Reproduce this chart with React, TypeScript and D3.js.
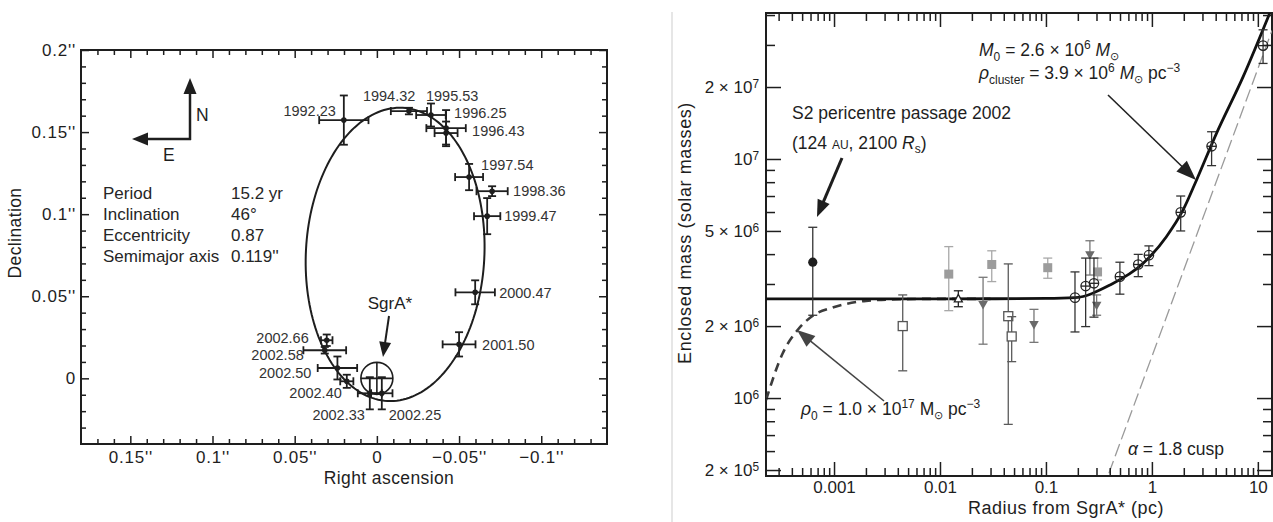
import React, { useEffect, useRef } from 'react';
import * as d3 from 'd3';

const FONT = '"Liberation Sans", Arial, Helvetica, sans-serif';
const INK = '#1e1e1e';

// --- S2 astrometry, arcsec offsets from SgrA* ---
const epochs = ['1992.23', '1994.32', '1995.53', '1996.25', '1996.43', '1997.54', '1998.36', '1999.47',
  '2000.47', '2001.50', '2002.25', '2002.33', '2002.40', '2002.50', '2002.58', '2002.66'];
const raOffset = [0.0201, -0.0195, -0.0329, -0.0421, -0.0421, -0.0561, -0.0701, -0.0671,
  -0.0598, -0.05, -0.003, 0.0043, 0.0183, 0.024, 0.0317, 0.0305];
const decOffset = [0.1573, 0.1628, 0.1604, 0.1524, 0.1494, 0.1226, 0.114, 0.0988,
  0.0524, 0.0207, -0.0091, -0.0091, -0.0018, 0.0063, 0.0171, 0.0232];
const raError = [0.015, 0.011, 0.009, 0.012, 0.007, 0.0085, 0.0095, 0.008,
  0.012, 0.01, 0.0065, 0.0073, 0.004, 0.012, 0.013, 0.0035];
const decError = [0.015, 0.002, 0.007, 0.011, 0.007, 0.008, 0.003, 0.011,
  0.0073, 0.0074, 0.0098, 0.0098, 0.004, 0.007, 0.002, 0.0035];
// label placement next to each point: dx, dy (px), anchor
const epochLabelShift: [number, number, string][] = [
  [-8, -4, 'end'], [-46, -10, 'start'], [-5, -14, 'start'], [8, -10, 'start'], [26, 3, 'start'],
  [12, -7, 'start'], [21, 5, 'start'], [17, 5, 'start'], [24, 6, 'start'], [23, 6, 'start'],
  [7, 27, 'start'], [-5, 27, 'end'], [-5, 17, 'end'], [-26, 10, 'end'], [-21, 10, 'end'], [-18, 3, 'end'],
];

// Keplerian fit projected on the sky (centre, semi-axes in arcsec, tilt in rad)
const orbitCentre = [-0.0111, 0.0755];
const orbitSemiAxes = [0.0894, 0.0543];
const orbitTilt = 0.052;

const orbitElements = ['Period', 'Inclination', 'Eccentricity', 'Semimajor axis'];
const orbitValues = ['15.2 yr', '46°', '0.87', "0.119''"];

const raTicks = [0.15, 0.1, 0.05, 0, -0.05, -0.1];
const decTicks = [0, 0.05, 0.1, 0.15, 0.2];

// --- enclosed mass vs radius ---
const s2Radius = [6.3e-4];
const s2Mass = [3.7e6];
const s2Hi = [5.18e6];
const s2Lo = [2.22e6];

const openSqRadius = [4.45e-3, 0.0441, 0.0475];
const openSqMass = [2.0e6, 2.2e6, 1.81e6];
const openSqHi = [2.7e6, 3.64e6, 2.19e6];
const openSqLo = [1.3e6, 7.76e5, 1.42e6];

const greySqRadius = [0.0121, 0.0308, 0.104, 0.307];
const greySqMass = [3.3e6, 3.62e6, 3.51e6, 3.37e6];
const greySqHi = [4.3e6, 4.13e6, 3.85e6, 3.85e6];
const greySqLo = [2.32e6, 3.07e6, 3.17e6, 3.12e6];

const triUpRadius = [0.0149];
const triUpMass = [2.6e6];
const triUpHi = [2.81e6];
const triUpLo = [2.41e6];

const triDownRadius = [0.0255, 0.0771, 0.26, 0.301];
const triDownMass = [2.45e6, 2.02e6, 3.96e6, 2.43e6];
const triDownHi = [3.2e6, 2.35e6, 4.55e6, 2.7e6];
const triDownLo = [1.68e6, 1.71e6, 3.27e6, 2.22e6];

const circRadius = [0.188, 0.237, 0.284, 0.499, 0.743, 0.937, 1.87, 3.66, 11.2];
const circMass = [2.63e6, 2.94e6, 3.02e6, 3.22e6, 3.62e6, 3.96e6, 5.98e6, 1.13e7, 2.98e7];
const circHi = [3.37e6, 3.85e6, 3.85e6, 3.7e6, 3.99e6, 4.33e6, 7.0e6, 1.3e7, 3.47e7];
const circLo = [1.89e6, 1.99e6, 2.18e6, 2.72e6, 3.22e6, 3.58e6, 5.0e6, 9.38e6, 2.51e7];

// point mass + cluster fit (solid)
const fitRadius = [2.28e-4, 0.01, 0.1, 0.188, 0.402, 0.828, 1.37, 1.97, 2.64, 4.07, 7.27, 12.97];
const fitMass = [2.6e6, 2.6e6, 2.61e6, 2.63e6, 2.97e6, 3.66e6, 4.73e6, 6.12e6, 8.17e6, 1.28e7, 2.21e7, 4.08e7];
// dark cluster with rho0 = 1e17 (dashed)
const coreRadius = [2.28e-4, 3.28e-4, 4.55e-4, 6.3e-4, 9.72e-4, 2.0e-3, 4.13e-3, 0.01, 0.03];
const coreMass = [0.98e6, 1.54e6, 1.93e6, 2.21e6, 2.39e6, 2.55e6, 2.59e6, 2.6e6, 2.6e6];
// alpha = 1.8 cusp (dash)
const cuspRadius = [0.393, 13.6];
const cuspMass = [4.85e5, 3.45e7];

const radiusTicks = [0.001, 0.01, 0.1, 1, 10];
const massTicks = [5e5, 1e6, 2e6, 5e6, 1e7, 2e7];
const massTickBase = ['2 × 10', '10', '2 × 10', '5 × 10', '10', '2 × 10'];
const massTickExp = ['5', '6', '6', '6', '7', '7'];

const L = { left: 81, right: 607, top: 50, bottom: 444 };
const R = { left: 766, right: 1272, top: 13, bottom: 476 };

const xOrbit = d3.scaleLinear().domain([0.18, -0.14]).range([L.left, L.right]);
const yOrbit = d3.scaleLinear().domain([-0.04, 0.2]).range([L.bottom, L.top]);
const xMass = d3.scaleLog().domain([2.28e-4, 13.6]).range([R.left, R.right]);
const yMass = d3.scaleLog().domain([4.72e5, 4.08e7]).range([R.bottom, R.top]);

const arcsec = (d: number) => (d === 0 ? '0' : `${d < 0 ? '−' : ''}${Math.abs(d)}''`);

function Arrow({ x1, y1, x2, y2, head = 15, width = 12, color = INK, sw = 2 }: any) {
  const dx = x2 - x1, dy = y2 - y1;
  const len = Math.hypot(dx, dy);
  const ux = dx / len, uy = dy / len;
  const bx = x2 - ux * head, by = y2 - uy * head;
  const pts = [[x2, y2], [bx - uy * width / 2, by + ux * width / 2], [bx + uy * width / 2, by - ux * width / 2]];
  return (
    <g>
      <line x1={x1} y1={y1} x2={bx + ux * 2} y2={by + uy * 2} stroke={color} strokeWidth={sw} />
      <polygon points={pts.map(p => p.join(',')).join(' ')} fill={color} />
    </g>
  );
}

function VBar({ x, yHi, yLo, color, cap = 4.5, sw = 1.3 }: any) {
  return (
    <g stroke={color} strokeWidth={sw}>
      <line x1={x} x2={x} y1={yHi} y2={yLo} />
      <line x1={x - cap} x2={x + cap} y1={yHi} y2={yHi} />
      <line x1={x - cap} x2={x + cap} y1={yLo} y2={yLo} />
    </g>
  );
}

const massSeries = [
  { kind: 'openSq', r: openSqRadius, m: openSqMass, hi: openSqHi, lo: openSqLo, bar: '#5a5a5a' },
  { kind: 'greySq', r: greySqRadius, m: greySqMass, hi: greySqHi, lo: greySqLo, bar: '#a8a8a8' },
  { kind: 'triDown', r: triDownRadius, m: triDownMass, hi: triDownHi, lo: triDownLo, bar: '#777' },
  { kind: 'triUp', r: triUpRadius, m: triUpMass, hi: triUpHi, lo: triUpLo, bar: '#222' },
  { kind: 'circ', r: circRadius, m: circMass, hi: circHi, lo: circLo, bar: '#333' },
  { kind: 's2', r: s2Radius, m: s2Mass, hi: s2Hi, lo: s2Lo, bar: '#333' },
];

function Marker({ kind, x, y }: any) {
  if (kind === 's2') return <circle cx={x} cy={y} r={4.6} fill={INK} />;
  if (kind === 'openSq') return <rect x={x - 4.5} y={y - 4.5} width={9} height={9} fill="#fff" stroke="#555" strokeWidth={1.3} />;
  if (kind === 'greySq') return <rect x={x - 4.5} y={y - 4.5} width={9} height={9} fill="#9c9c9c" />;
  if (kind === 'triUp') return <polygon points={`${x},${y - 4.5} ${x - 4},${y + 3} ${x + 4},${y + 3}`} fill="#fff" stroke="#222" strokeWidth={1.3} />;
  if (kind === 'triDown') return <polygon points={`${x - 4.8},${y - 4} ${x + 4.8},${y - 4} ${x},${y + 4.5}`} fill="#6a6a6a" />;
  return (
    <g stroke="#222" strokeWidth={1.3} fill="none">
      <circle cx={x} cy={y} r={4.7} />
      <line x1={x - 4.7} x2={x + 4.7} y1={y} y2={y} />
    </g>
  );
}

export default function App() {
  const axesRef = useRef<SVGGElement>(null);

  useEffect(() => {
    const root = d3.select(axesRef.current);
    root.selectAll('*').remove();
    const put = (axis: any, tx: number, ty: number) => {
      const g = root.append('g').attr('transform', `translate(${tx},${ty})`).call(axis);
      g.select('.domain').remove();
      g.selectAll('.tick line').attr('stroke', INK).attr('stroke-width', 1.5);
      g.selectAll('.tick text').attr('fill', INK).attr('font-family', FONT).attr('font-size', 17);
      return g;
    };
    const none = () => '';

    // left panel
    const raMinor = d3.range(-13, 18).filter(i => i % 5 !== 0).map(i => i / 100);
    const decMinor = d3.range(-3, 20).filter(i => i % 5 !== 0).map(i => i / 100);
    put(d3.axisBottom(xOrbit).tickValues(raTicks).tickSizeInner(-8).tickSizeOuter(0).tickPadding(7).tickFormat(arcsec as any), 0, L.bottom)
      .selectAll('.tick text').attr('letter-spacing', 0.8);
    put(d3.axisBottom(xOrbit).tickValues(raMinor).tickSizeInner(-5).tickSizeOuter(0).tickFormat(none), 0, L.bottom);
    put(d3.axisTop(xOrbit).tickValues(raTicks).tickSizeInner(-8).tickSizeOuter(0).tickFormat(none), 0, L.top);
    put(d3.axisTop(xOrbit).tickValues(raMinor).tickSizeInner(-5).tickSizeOuter(0).tickFormat(none), 0, L.top);
    put(d3.axisLeft(yOrbit).tickValues(decTicks).tickSizeInner(-8).tickSizeOuter(0).tickPadding(5).tickFormat(arcsec as any), L.left, 0)
      .selectAll('.tick text').attr('letter-spacing', 0.8);
    put(d3.axisLeft(yOrbit).tickValues(decMinor).tickSizeInner(-5).tickSizeOuter(0).tickFormat(none), L.left, 0);
    put(d3.axisRight(yOrbit).tickValues(decTicks).tickSizeInner(-8).tickSizeOuter(0).tickFormat(none), L.right, 0);
    put(d3.axisRight(yOrbit).tickValues(decMinor).tickSizeInner(-5).tickSizeOuter(0).tickFormat(none), L.right, 0);

    // right panel
    const isDecade = (v: number) => Math.abs(Math.log10(v) - Math.round(Math.log10(v))) < 1e-6;
    const rMinor = xMass.ticks().filter(v => !isDecade(v));
    const mMinor = yMass.ticks().filter(v => !massTicks.some(t => Math.abs(t - v) / t < 1e-6));
    put(d3.axisBottom(xMass).tickValues(radiusTicks).tickSizeInner(-14).tickSizeOuter(0).tickPadding(5).tickFormat((d: any) => String(d)), 0, R.bottom);
    put(d3.axisBottom(xMass).tickValues(rMinor).tickSizeInner(-8).tickSizeOuter(0).tickFormat(none), 0, R.bottom);
    put(d3.axisTop(xMass).tickValues(radiusTicks).tickSizeInner(-14).tickSizeOuter(0).tickFormat(none), 0, R.top);
    put(d3.axisTop(xMass).tickValues(rMinor).tickSizeInner(-8).tickSizeOuter(0).tickFormat(none), 0, R.top);
    const gy = put(d3.axisLeft(yMass).tickValues(massTicks).tickSizeInner(-15).tickSizeOuter(0).tickPadding(7).tickFormat(none), R.left, 0);
    gy.selectAll('.tick text').each(function (_d: any, i: number) {
      const t = d3.select(this as SVGTextElement);
      t.append('tspan').text(massTickBase[i]);
      t.append('tspan').attr('dy', '-0.45em').attr('font-size', '0.7em').text(massTickExp[i]);
    });
    put(d3.axisLeft(yMass).tickValues(mMinor).tickSizeInner(-9).tickSizeOuter(0).tickFormat(none), R.left, 0);
    put(d3.axisRight(yMass).tickValues(massTicks).tickSizeInner(-15).tickSizeOuter(0).tickFormat(none), R.right, 0);
    put(d3.axisRight(yMass).tickValues(mMinor).tickSizeInner(-9).tickSizeOuter(0).tickFormat(none), R.right, 0);
  }, []);

  const orbitPath = d3.line<number>()
    .x(deg => {
      const t = (deg * Math.PI) / 180;
      const u = orbitSemiAxes[1] * Math.cos(t), v = orbitSemiAxes[0] * Math.sin(t);
      return xOrbit(orbitCentre[0] + u * Math.cos(orbitTilt) - v * Math.sin(orbitTilt));
    })
    .y(deg => {
      const t = (deg * Math.PI) / 180;
      const u = orbitSemiAxes[1] * Math.cos(t), v = orbitSemiAxes[0] * Math.sin(t);
      return yOrbit(orbitCentre[1] + u * Math.sin(orbitTilt) + v * Math.cos(orbitTilt));
    })
    .curve(d3.curveLinearClosed)(d3.range(0, 360, 2));

  const massLine = (rs: number[], ms: number[]) =>
    d3.line<number>().x(i => xMass(rs[i])).y(i => yMass(ms[i])).curve(d3.curveMonotoneX)(d3.range(rs.length)) || '';

  const cap = 4;
  const sgrX = xOrbit(0), sgrY = yOrbit(0);

  return (
    <svg width={1273} height={522} style={{ position: 'absolute', left: 0, top: 0, background: '#fff' }}
      fontFamily={FONT} fill={INK}>
      <defs>
        <clipPath id="massClip"><rect x={R.left} y={R.top} width={R.right - R.left} height={R.bottom - R.top} /></clipPath>
      </defs>

      {/* ---------- left panel ---------- */}
      <rect x={L.left} y={L.top} width={L.right - L.left} height={L.bottom - L.top} fill="none" stroke={INK} strokeWidth={2} />
      <path d={orbitPath || ''} fill="none" stroke={INK} strokeWidth={2} />

      <g stroke={INK} strokeWidth={1.8}>
        {epochs.map((e, i) => {
          const x = xOrbit(raOffset[i]), y = yOrbit(decOffset[i]);
          const xa = xOrbit(raOffset[i] + raError[i]), xb = xOrbit(raOffset[i] - raError[i]);
          const ya = yOrbit(decOffset[i] + decError[i]), yb = yOrbit(decOffset[i] - decError[i]);
          return (
            <g key={e}>
              <line x1={xa} x2={xb} y1={y} y2={y} />
              <line x1={xa} x2={xa} y1={y - cap} y2={y + cap} />
              <line x1={xb} x2={xb} y1={y - cap} y2={y + cap} />
              <line x1={x} x2={x} y1={ya} y2={yb} />
              <line x1={x - cap} x2={x + cap} y1={ya} y2={ya} />
              <line x1={x - cap} x2={x + cap} y1={yb} y2={yb} />
              <circle cx={x} cy={y} r={2.8} fill={INK} stroke="none" />
            </g>
          );
        })}
      </g>
      <g fontSize={14.5} fill="#333">
        {epochs.map((e, i) => (
          <text key={e} x={xOrbit(raOffset[i]) + epochLabelShift[i][0]} y={yOrbit(decOffset[i]) + epochLabelShift[i][1]}
            textAnchor={epochLabelShift[i][2]}>{e}</text>
        ))}
      </g>

      {/* SgrA* */}
      <g stroke={INK} strokeWidth={1.6} fill="none">
        <circle cx={sgrX} cy={sgrY} r={16} />
        <line x1={sgrX - 16} x2={sgrX + 16} y1={sgrY} y2={sgrY} />
        <line x1={sgrX} x2={sgrX} y1={sgrY - 16} y2={sgrY + 16} />
      </g>
      <text x={390} y={309} fontSize={17} textAnchor="middle">SgrA*</text>
      <Arrow x1={389} y1={316} x2={383} y2={357} head={15} width={12} sw={2} />

      {/* compass */}
      <Arrow x1={190} y1={140} x2={190} y2={78} head={16} width={13} sw={2.5} />
      <Arrow x1={191} y1={139} x2={132} y2={139} head={16} width={13} sw={2.5} />
      <text x={196} y={121} fontSize={17.5}>N</text>
      <text x={163} y={161} fontSize={17.5}>E</text>

      {/* orbital elements */}
      <g fontSize={17} fill="#262626">
        {orbitElements.map((name, i) => (
          <g key={name}>
            <text x={103} y={199 + i * 21}>{name}</text>
            <text x={231} y={199 + i * 21}>{orbitValues[i]}</text>
          </g>
        ))}
      </g>

      <text x={389} y={484} fontSize={17.5} letterSpacing={0.4} textAnchor="middle">Right ascension</text>
      <text transform="translate(21,233) rotate(-90)" fontSize={17.5} letterSpacing={0.4} textAnchor="middle">Declination</text>

      {/* separator */}
      <line x1={672} x2={672} y1={12} y2={522} stroke="#e6e6e6" strokeWidth={2} />

      {/* ---------- right panel ---------- */}
      <rect x={R.left} y={R.top} width={R.right - R.left} height={R.bottom - R.top} fill="none" stroke={INK} strokeWidth={2} />

      <g clipPath="url(#massClip)" fill="none">
        <path d={massLine(cuspRadius, cuspMass)} stroke="#9a9a9a" strokeWidth={1.3} strokeDasharray="13 5" />
        <path d={massLine(coreRadius, coreMass)} stroke="#3c3c3c" strokeWidth={2.6} strokeDasharray="9 6" />
        <path d={massLine(fitRadius, fitMass)} stroke="#111" strokeWidth={2.8} />
      </g>

      {massSeries.map(s => (
        <g key={s.kind}>
          {s.r.map((r, i) => (
            <g key={i}>
              <VBar x={xMass(r)} yHi={yMass(s.hi[i])} yLo={yMass(s.lo[i])} color={s.bar} />
              <Marker kind={s.kind} x={xMass(r)} y={yMass(s.m[i])} />
            </g>
          ))}
        </g>
      ))}

      <g ref={axesRef} />

      {/* annotations */}
      <text x={792} y={119} fontSize={17.5}>S2 pericentre passage 2002</text>
      <text x={792} y={149} fontSize={17.5}>
        {'(124 '}<tspan fontSize={12}>AU</tspan>{', 2100 '}<tspan fontStyle="italic">R</tspan>
        <tspan fontSize={12} dy={4}>s</tspan><tspan dy={-4}>)</tspan>
      </text>
      <Arrow x1={842} y1={158} x2={817} y2={217} head={17} width={13} sw={3} />

      <text x={979} y={56} fontSize={17.5}>
        <tspan fontStyle="italic">M</tspan><tspan fontSize={12} dy={5}>0</tspan>
        <tspan dy={-5}>{' = 2.6 × 10'}</tspan><tspan fontSize={12} dy={-7}>6</tspan>
        <tspan dy={7}>{'\u00a0'}</tspan><tspan fontStyle="italic">M</tspan><tspan fontSize={11} dy={4}>⊙</tspan>
      </text>
      <text x={979} y={79} fontSize={17.5}>
        <tspan fontStyle="italic">ρ</tspan><tspan fontSize={12} dy={5}>cluster</tspan>
        <tspan dy={-5}>{' = 3.9 × 10'}</tspan><tspan fontSize={12} dy={-7}>6</tspan>
        <tspan dy={7}>{'\u00a0'}</tspan><tspan fontStyle="italic">M</tspan><tspan fontSize={11} dy={4}>⊙</tspan>
        <tspan dy={-4}>{' pc'}</tspan><tspan fontSize={12} dy={-7}>−3</tspan>
      </text>
      <Arrow x1={1108} y1={95} x2={1196} y2={180} head={20} width={15} sw={1.6} color="#222" />

      <text x={801} y={415} fontSize={17.5}>
        <tspan fontStyle="italic">ρ</tspan><tspan fontSize={12} dy={5}>0</tspan>
        <tspan dy={-5}>{' = 1.0 × 10'}</tspan><tspan fontSize={12} dy={-7}>17</tspan>
        <tspan dy={7}>{'\u00a0M'}</tspan><tspan fontSize={11} dy={4}>⊙</tspan>
        <tspan dy={-4}>{' pc'}</tspan><tspan fontSize={12} dy={-7}>−3</tspan>
      </text>
      <Arrow x1={884} y1={401} x2={797} y2={330} head={18} width={14} sw={1.6} color="#444" />

      <text x={1128} y={455} fontSize={17.5}>
        <tspan fontStyle="italic">α</tspan>{' = 1.8 cusp'}
      </text>

      <text x={1066} y={514} fontSize={18} letterSpacing={0.5} textAnchor="middle">Radius from SgrA* (pc)</text>
      <text transform="translate(691,233) rotate(-90)" fontSize={18} letterSpacing={0.6} textAnchor="middle">Enclosed mass (solar masses)</text>
    </svg>
  );
}
